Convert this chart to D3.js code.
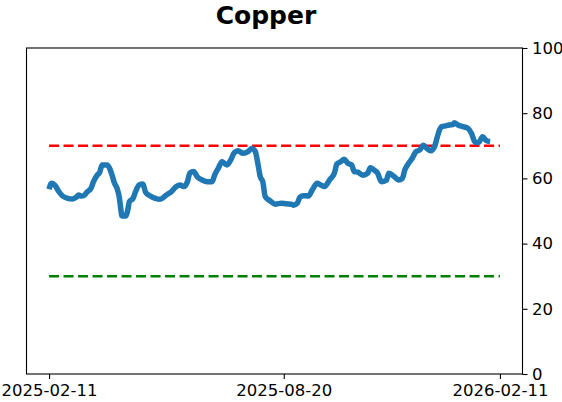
<!DOCTYPE html>
<html>
<head>
  <meta charset="utf-8">
  <title>Copper</title>
  <script src="https://d3js.org/d3.v7.min.js"></script>
  <style>
    body { margin: 0; background: #fff; }
    svg { display: block; font-family: "DejaVu Sans", sans-serif; }
  </style>
</head>
<body>
<div id="chart"></div>
<script>
const title = "Copper";
const startDate = "2025-02-11";
const endDate = "2026-02-11";
// days after startDate
const dayOffsets = [0, 2, 5, 8, 11, 15, 19, 22, 24, 26, 28, 31, 34, 36, 39, 41, 43, 47, 49, 51,
  53, 55, 57, 58, 59, 62, 64, 65, 68, 70, 73, 76, 78, 82, 86, 90, 95, 99, 103, 106,
  109, 112, 114, 117, 120, 124, 128, 132, 134, 137, 140, 144, 147, 150, 153, 157, 161, 164, 167, 169,
  171, 173, 175, 179, 183, 188, 192, 196, 198, 201, 203, 206, 210, 213, 217, 220, 223, 227, 231, 233,
  236, 239, 242, 245, 247, 250, 254, 258, 260, 263, 266, 269, 273, 275, 278, 281, 283, 286, 288, 291,
  294, 297, 300, 303, 305, 309, 312, 314, 316, 318, 321, 324, 327, 328, 331, 335, 339, 342, 345, 348,
  351, 354, 357];
const values = [56.7, 58.5, 57.8, 55.9, 54.6, 53.9, 53.7, 54.2, 54.9, 54.6, 54.7, 55.9, 57.0, 59.0, 61.0, 61.9, 64.1, 64.1, 63.1, 61.0,
  58.5, 57.0, 53.9, 50.8, 48.5, 48.5, 50.8, 52.9, 53.9, 55.9, 58.0, 58.3, 55.9, 54.6, 53.9, 53.6, 54.9, 55.9, 57.5, 58.0,
  57.5, 59.0, 61.6, 62.1, 60.5, 59.5, 59.0, 59.0, 61.0, 63.1, 65.1, 64.1, 65.6, 67.9, 68.5, 67.7, 68.2, 69.2, 68.2, 64.6,
  60.5, 59.0, 54.4, 53.1, 52.1, 52.4, 52.2, 52.1, 51.8, 52.4, 54.2, 54.7, 54.6, 56.4, 58.5, 58.0, 57.5, 59.5, 61.6, 64.4,
  65.1, 65.9, 64.6, 64.1, 62.1, 61.9, 61.0, 61.6, 63.3, 62.6, 61.6, 59.0, 59.4, 61.6, 61.0, 60.0, 59.5, 60.0, 62.6, 64.6,
  66.2, 68.2, 68.7, 70.2, 69.5, 68.5, 69.7, 72.3, 74.8, 75.9, 76.1, 76.4, 76.5, 77.1, 76.4, 75.9, 75.4, 73.8, 71.0, 71.1,
  72.8, 71.6, 71.3];
const xTickLabels = ["2025-02-11", "2025-08-20", "2026-02-11"];
const yTicks = [0, 20, 40, 60, 80, 100];
const upperLevel = 70;
const lowerLevel = 30;

const width = 562, height = 402;
const margin = { top: 48, right: 39.5, bottom: 28, left: 26.5 };

const parse = d3.utcParse("%Y-%m-%d");
const t0 = parse(startDate), t1 = parse(endDate);
const data = dayOffsets.map((d, i) => ({ date: d3.utcDay.offset(t0, d), value: values[i] }));
const pad = (t1 - t0) * 0.05;

const x = d3.scaleUtc()
  .domain([new Date(+t0 - pad), new Date(+t1 + pad)])
  .range([margin.left, width - margin.right]);
const y = d3.scaleLinear()
  .domain([0, 100])
  .range([height - margin.bottom, margin.top]);

const svg = d3.select("#chart").append("svg")
  .attr("width", width)
  .attr("height", height);

svg.append("text")
  .attr("x", 266)
  .attr("y", 24)
  .attr("text-anchor", "middle")
  .attr("font-size", 25)
  .attr("font-weight", "bold")
  .text(title);

// reference levels
[[upperLevel, "#ff0000"], [lowerLevel, "#008000"]].forEach(([lv, c]) => {
  svg.append("line")
    .attr("x1", x(t0)).attr("x2", x(t1))
    .attr("y1", y(lv)).attr("y2", y(lv))
    .attr("stroke", c)
    .attr("stroke-width", 2.6)
    .attr("stroke-dasharray", "10,4.5");
});

svg.append("path")
  .datum(data)
  .attr("fill", "none")
  .attr("stroke", "#1f77b4")
  .attr("stroke-width", 5.5)
  .attr("stroke-linejoin", "round")
  .attr("stroke-linecap", "butt")
  .attr("d", d3.line().x(d => x(d.date)).y(d => y(d.value)).curve(d3.curveMonotoneX));

// frame
svg.append("rect")
  .attr("x", margin.left).attr("y", margin.top)
  .attr("width", width - margin.right - margin.left)
  .attr("height", height - margin.bottom - margin.top)
  .attr("fill", "none")
  .attr("stroke", "#000")
  .attr("stroke-width", 1.1);

const xAxis = svg.append("g")
  .attr("transform", `translate(0,${height - margin.bottom})`)
  .call(d3.axisBottom(x)
    .tickValues(xTickLabels.map(parse))
    .tickFormat(d3.utcFormat("%Y-%m-%d"))
    .tickSize(5).tickPadding(5).tickSizeOuter(0));

const yAxis = svg.append("g")
  .attr("transform", `translate(${width - margin.right},0)`)
  .call(d3.axisRight(y)
    .tickValues(yTicks)
    .tickSize(5).tickPadding(4.5).tickSizeOuter(0));

[xAxis, yAxis].forEach(g => {
  g.select(".domain").remove();
  g.selectAll("line").attr("stroke", "#000").attr("stroke-width", 1.1);
  g.selectAll("text")
    .attr("fill", "#000")
    .attr("font-size", 16.5)
    .attr("font-family", "DejaVu Sans, sans-serif");
});
</script>
</body>
</html>
